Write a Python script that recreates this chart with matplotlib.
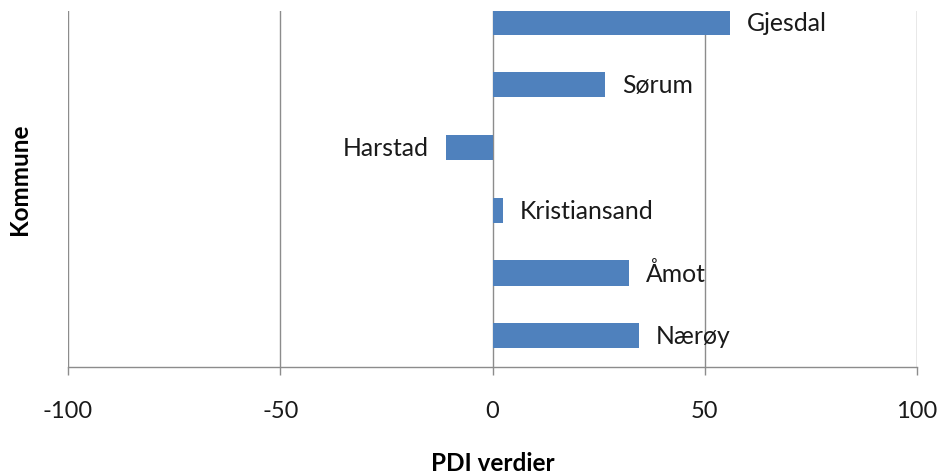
import matplotlib
matplotlib.use("Agg")
import matplotlib.pyplot as plt

# PDI values per municipality (bottom to top)
kommuner = ["Nærøy", "Åmot", "Kristiansand", "Harstad", "Sørum", "Gjesdal"]
pdi = [34.6, 32.2, 2.5, -11.0, 26.5, 56.0]
x_ticks = [-100, -50, 0, 50, 100]

bar_color = "#4F81BD"
grid_color = "#8C8C8C"
font = "Lato"

fig = plt.figure(figsize=(9.41, 4.77), dpi=100)
ax = fig.add_axes([68 / 941, 1 - 368 / 477, (917 - 68) / 941, (368 - 12) / 477])

positions = list(range(len(kommuner)))
ax.barh(positions, pdi, height=0.4, color=bar_color, zorder=3)

for pos, name, value in zip(positions, kommuner, pdi):
    if value >= 0:
        ax.annotate(name, (value, pos), xytext=(12, 0), textcoords="offset points",
                    ha="left", va="center", fontsize=17.8, family=font, color="#1a1a1a")
    else:
        ax.annotate(name, (value, pos), xytext=(-12, 0), textcoords="offset points",
                    ha="right", va="center", fontsize=17.8, family=font, color="#1a1a1a")

ax.set_xlim(-100, 100)
ax.set_ylim(-0.5, 5.18)
ax.set_xticks(x_ticks)
ax.set_xticklabels([str(t) for t in x_ticks], family=font, fontsize=17)
ax.set_yticks([])

ax.grid(axis="x", color=grid_color, linewidth=1, zorder=0)
for side in ["top", "right", "left"]:
    ax.spines[side].set_visible(False)
ax.spines["bottom"].set_color(grid_color)
ax.spines["bottom"].set_linewidth(1)
ax.spines["bottom"].set_zorder(4)
ax.tick_params(axis="x", direction="out", length=6, width=1, color=grid_color,
               pad=18, labelcolor="#1a1a1a")

ax.set_xlabel("PDI verdier", family=font, fontsize=17.5, fontweight="bold")
ax.set_ylabel("Kommune", family=font, fontsize=17.5, fontweight="bold")
ax.xaxis.set_label_coords(0.5, -0.236)
ax.yaxis.set_label_coords(-0.044, 0.53)

fig.savefig("out.png", dpi=100)
